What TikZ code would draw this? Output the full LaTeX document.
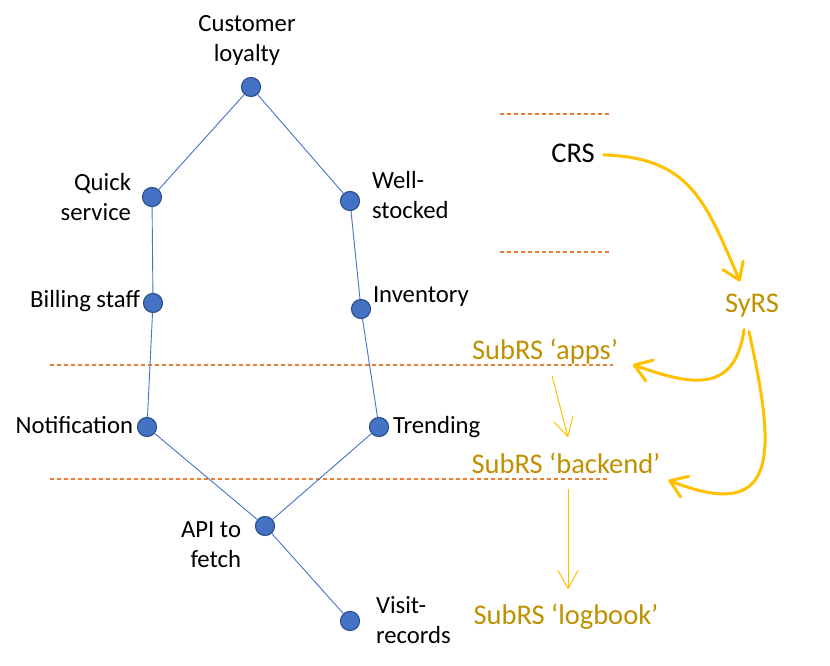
\documentclass[tikz,border=0pt]{standalone}
\usepackage{fontspec}
\setmainfont{Carlito}
\usetikzlibrary{arrows.meta}
\definecolor{dotfill}{HTML}{4472C4}
\definecolor{dotdraw}{HTML}{2F528F}
\definecolor{sepline}{HTML}{ED7D31}
\definecolor{arrowy}{HTML}{FFC000}
\definecolor{reqtext}{HTML}{BF9000}
\tikzset{
  dot/.style={circle, fill=dotfill, draw=dotdraw, line width=1.2pt, minimum size=19pt, inner sep=0pt},
  link/.style={draw=dotfill, line width=0.9pt},
  lbl/.style={inner sep=0pt, outer sep=0pt, font=\fontsize{24.7}{29.5}\selectfont},
  reqbase/.style={inner sep=0pt, outer sep=0pt, font=\fontsize{28.5}{34}\selectfont},
  req/.style={reqbase, text=reqtext},
  sep/.style={draw=sepline, line width=1.1pt, dash pattern=on 4pt off 3pt},
  bigarrow/.style={draw=arrowy, line width=3pt, line cap=round, -{Straight Barb[length=16pt,width=22pt,round]}},
  smallarrow/.style={draw=arrowy, line width=1pt, -{Straight Barb[length=18pt,width=20pt]}},
}
\begin{document}
\begin{tikzpicture}[x=1pt,y=-1pt]
\useasboundingbox (0,0) rectangle (830,666);

% separators
\draw[sep] (500,114) -- (612,114);
\draw[sep] (500,252) -- (612,252);
\draw[sep] (50,365) -- (613,365);
\draw[sep] (50,479) -- (609,479);

% dots
\node[dot] (loy) at (251,87) {};
\node[dot] (qs) at (152,197) {};
\node[dot] (ws) at (350,201) {};
\node[dot] (bs) at (153,303) {};
\node[dot] (inv) at (361,309) {};
\node[dot] (not) at (147,427) {};
\node[dot] (tr) at (379,427) {};
\node[dot] (api) at (265,526) {};
\node[dot] (vr) at (350,621) {};

\draw[link] (loy) -- (qs);
\draw[link] (loy) -- (ws);
\draw[link] (qs) -- (bs);
\draw[link] (ws) -- (inv);
\draw[link] (bs) -- (not);
\draw[link] (inv) -- (tr);
\draw[link] (not) -- (api);
\draw[link] (tr) -- (api);
\draw[link] (api) -- (vr);

% labels (base anchor = baseline of the last line)
\node[lbl, anchor=base, align=center] (tloy) at (247,61.5) {Customer\\loyalty};
\node[lbl, anchor=base east, align=right] (tqs) at (131,220) {Quick\\service};
\node[lbl, anchor=base west, align=left] (tws) at (372,218) {Well-\\stocked};
\node[lbl, anchor=base east] (tbs) at (140,307) {Billing staff};
\node[lbl, anchor=base west] (tinv) at (373,302) {Inventory};
\node[lbl, anchor=base east] (tnot) at (133,433) {Notification};
\node[lbl, anchor=base west] (ttr) at (393,433) {Trending};
\node[lbl, anchor=base east, align=right] (tapi) at (241,567) {API to\\fetch};
\node[lbl, anchor=base west, align=left] (tvr) at (376,643) {Visit-\\records};

% requirement levels
\node[reqbase, anchor=base] (crs) at (573,163) {CRS};
\node[req, anchor=base] (syrs) at (752,312) {SyRS};
\node[req, anchor=base] (apps) at (545,359) {SubRS ‘apps’};
\node[req, anchor=base] (backend) at (566,473) {SubRS ‘backend’};
\node[req, anchor=base] (logbook) at (566,624) {SubRS ‘logbook’};

\draw[bigarrow] ([xshift=9pt,yshift=-1pt]crs.east) .. controls (690,158) and (705,200) .. ([xshift=-12pt,yshift=12pt]syrs.north);
\draw[bigarrow] ([xshift=-8pt,yshift=-13pt]syrs.south) .. controls (735,395) and (690,385) .. ([xshift=15pt,yshift=-1pt]apps.south east);
\draw[bigarrow] ([xshift=-3pt,yshift=-15pt]syrs.south) .. controls (775,450) and (782,525) .. ([xshift=8pt,yshift=-7pt]backend.south east);
\draw[smallarrow] ([xshift=7pt,yshift=-12pt]apps.south) -- ([xshift=2pt,yshift=15pt]backend.north);
\draw[smallarrow] ([xshift=2pt,yshift=-16pt]backend.south) -- ([xshift=2pt,yshift=14pt]logbook.north);
\end{tikzpicture}
\end{document}
